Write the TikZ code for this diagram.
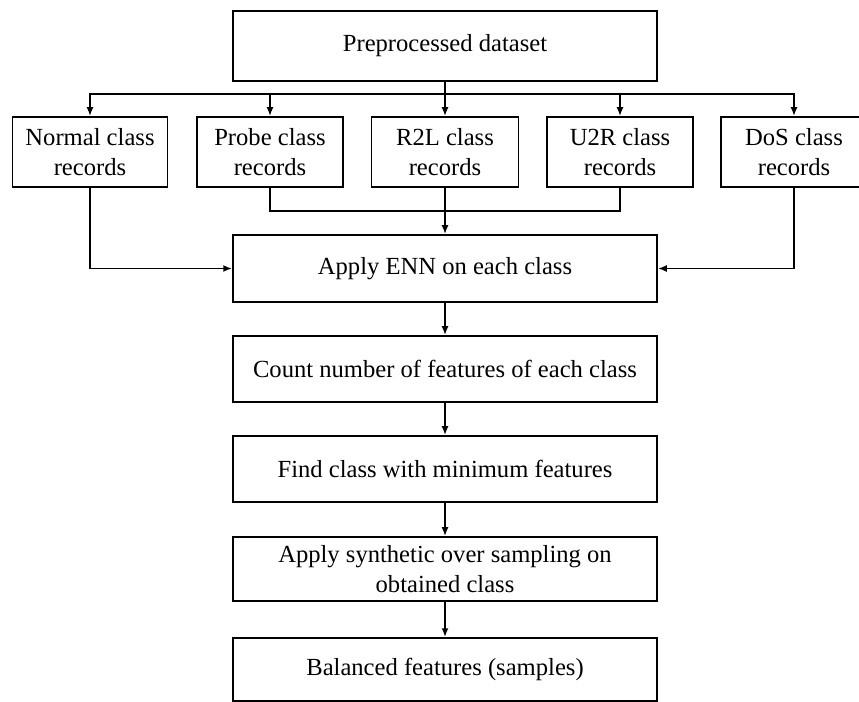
\documentclass[tikz,border=0pt]{standalone}
\usepackage{fontspec}
\setmainfont{Liberation Serif}
\usetikzlibrary{positioning}
\usetikzlibrary{arrows.meta}

\tikzset{
  box/.style={draw, rectangle, line width=1.1pt, align=center, inner sep=2pt,
    font=\fontsize{14}{17}\selectfont},
  flow/.style={line width=1.1pt, -{Latex[length=5pt,width=4pt]}}
}

\begin{document}
\begin{tikzpicture}
            \useasboundingbox (0,0) rectangle (17.18,-14.04);
            % Dataset and the five class groups
            \node[box, minimum width=8.48cm, minimum height=1.4cm] (data) at (8.9,-0.92) {Preprocessed dataset};
            \node[box, minimum width=3.1cm, minimum height=1.4cm] (normal) at (1.8,-3.04) {Normal class\\records};
            \node[box, minimum width=2.92cm, minimum height=1.4cm] (probe) at (5.4,-3.04) {Probe class\\records};
            \node[box, minimum width=2.94cm, minimum height=1.4cm] (r2l) at (8.9,-3.04) {R2L class\\records};
            \node[box, minimum width=2.92cm, minimum height=1.4cm] (u2r) at (12.4,-3.04) {U2R class\\records};
            \node[box, minimum width=2.92cm, minimum height=1.4cm] (dos) at (15.88,-3.04) {DoS class\\records};

            % Processing chain
            \node[box, minimum width=8.48cm, minimum height=1.34cm] (enn) at (8.9,-5.37) {Apply ENN on each class};
            \node[box, minimum width=8.48cm, minimum height=1.32cm] (count) at (8.9,-7.38) {Count number of features of each class};
            \node[box, minimum width=8.48cm, minimum height=1.32cm] (find) at (8.9,-9.38) {Find class with minimum features};
            \node[box, minimum width=8.48cm, minimum height=1.28cm] (synth) at (8.9,-11.38) {Apply synthetic over sampling on\\obtained class};
            \node[box, minimum width=8.48cm, minimum height=1.26cm] (bal) at (8.9,-13.39) {Balanced features (samples)};

            \coordinate (join) at (8.9,-4.22);

            \draw[flow] (data) -- (r2l);
            \foreach \c in {normal,probe,u2r,dos}
              \draw[flow] (data.south) -- ++(0,-0.24) -| (\c.north);

            \draw[line width=1.1pt] (probe.south) |- (join);
            \draw[line width=1.1pt] (u2r.south) |- (join);
            \draw[flow] (r2l) -- (enn);
            \draw[flow] (normal.south) |- (enn.west);
            \draw[flow] (dos.south) |- (enn.east);

            \draw[flow] (enn) -- (count);
            \draw[flow] (count) -- (find);
            \draw[flow] (find) -- (synth);
            \draw[flow] (synth) -- (bal);
        \end{tikzpicture}
\end{document}
